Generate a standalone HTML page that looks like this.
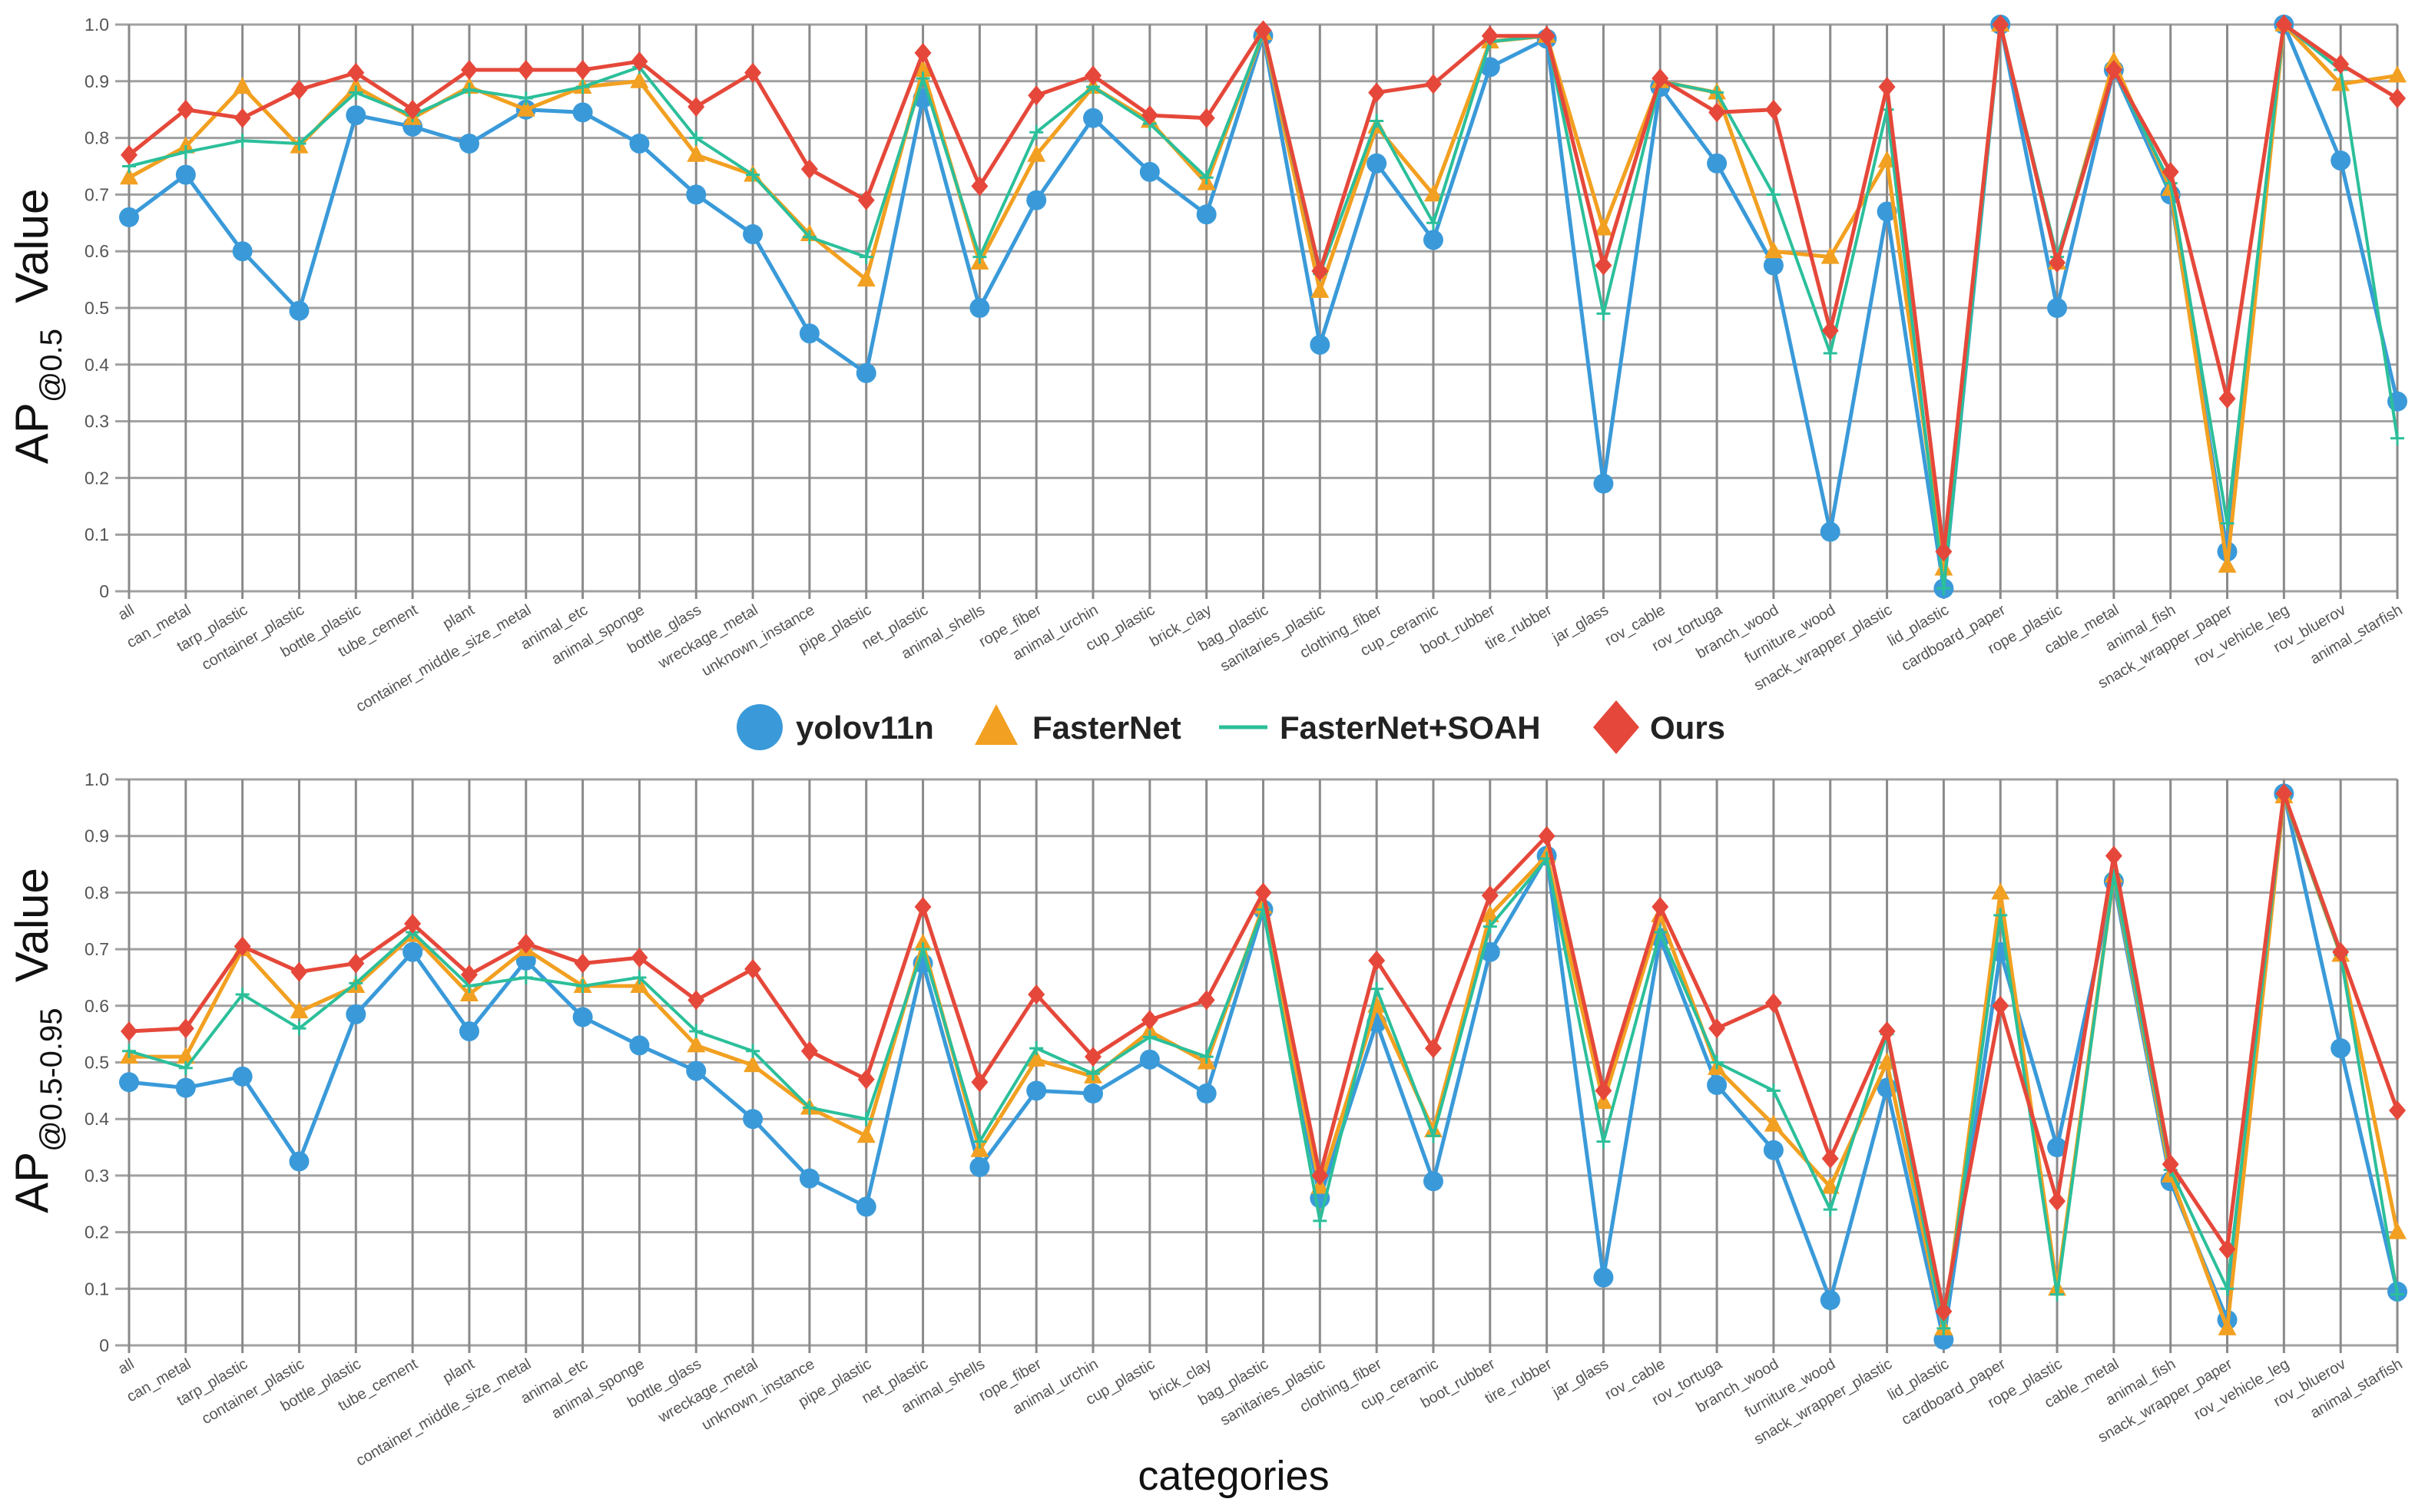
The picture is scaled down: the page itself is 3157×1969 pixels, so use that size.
<!DOCTYPE html>
<html><head><meta charset="utf-8"><style>
html,body{margin:0;padding:0;background:#fff;}
svg{display:block;font-family:"Liberation Sans",Arial,sans-serif;}
</style></head><body>
<svg id="chart" width="3157" height="1969" viewBox="0 0 3157 1969" xmlns="http://www.w3.org/2000/svg">
<rect width="3157" height="1969" fill="#fff"/>
<g id="top"></g>
<g id="bot"></g>
<g>
  <g>
    <circle cx="989" cy="947" r="30" fill="#3a9ad9"/>
    <text x="1036" y="962" font-size="42" font-weight="bold" fill="#222">yolov11n</text>
  </g>
  <g>
    <polygon points="1297,917 1325,970 1269,970" fill="#f2a021"/>
    <text x="1344" y="962" font-size="42" font-weight="bold" fill="#222">FasterNet</text>
  </g>
  <g>
    <line x1="1587" y1="947" x2="1650" y2="947" stroke="#2bbf9a" stroke-width="5"/>
    <text x="1666" y="962" font-size="42" font-weight="bold" fill="#222">FasterNet+SOAH</text>
  </g>
  <g>
    <polygon points="2104,912 2134,947 2104,982 2074,947" fill="#e5483a"/>
    <text x="2148" y="962" font-size="42" font-weight="bold" fill="#222">Ours</text>
  </g>
</g>
<text x="1606" y="1940" font-size="54" text-anchor="middle" fill="#111">categories</text>
</svg>
<script>
const categories=["all","can_metal","tarp_plastic","container_plastic","bottle_plastic","tube_cement","plant","container_middle_size_metal","animal_etc","animal_sponge","bottle_glass","wreckage_metal","unknown_instance","pipe_plastic","net_plastic","animal_shells","rope_fiber","animal_urchin","cup_plastic","brick_clay","bag_plastic","sanitaries_plastic","clothing_fiber","cup_ceramic","boot_rubber","tire_rubber","jar_glass","rov_cable","rov_tortuga","branch_wood","furniture_wood","snack_wrapper_plastic","lid_plastic","cardboard_paper","rope_plastic","cable_metal","animal_fish","snack_wrapper_paper","rov_vehicle_leg","rov_bluerov","animal_starfish"];
const yTicks=["0","0.1","0.2","0.3","0.4","0.5","0.6","0.7","0.8","0.9","1.0"];
const seriesNames=["yolov11n","FasterNet","FasterNet+SOAH","Ours"];
// AP@0.5
const top_yolo=[.66,.735,.60,.495,.84,.82,.79,.85,.845,.79,.70,.63,.455,.385,.87,.50,.69,.835,.74,.665,.98,.435,.755,.62,.925,.975,.19,.89,.755,.575,.105,.67,.005,1.0,.50,.92,.70,.07,1.0,.76,.335];
const top_faster=[.73,.785,.89,.785,.89,.835,.89,.85,.89,.90,.77,.735,.63,.55,.92,.58,.77,.89,.83,.72,.985,.53,.82,.70,.97,.98,.64,.90,.88,.60,.59,.76,.04,1.0,.58,.935,.71,.045,1.0,.895,.91];
const top_soah=[.75,.775,.795,.79,.88,.84,.885,.87,.89,.925,.80,.735,.625,.59,.905,.59,.81,.89,.825,.73,.985,.56,.83,.65,.97,.98,.49,.90,.88,.70,.42,.85,.005,1.0,.59,.92,.72,.12,1.0,.92,.27];
const top_ours=[.77,.85,.835,.885,.915,.85,.92,.92,.92,.935,.855,.915,.745,.69,.95,.715,.875,.91,.84,.835,.99,.565,.88,.895,.98,.98,.575,.905,.845,.85,.46,.89,.07,1.0,.58,.92,.74,.34,1.0,.93,.87];
// AP@0.5-0.95
const bot_yolo=[.465,.455,.475,.325,.585,.695,.555,.68,.58,.53,.485,.40,.295,.245,.675,.315,.45,.445,.505,.445,.77,.26,.57,.29,.695,.865,.12,.72,.46,.345,.08,.455,.01,.695,.35,.82,.29,.045,.975,.525,.095];
const bot_faster=[.51,.51,.70,.59,.635,.725,.62,.70,.635,.635,.53,.495,.42,.37,.71,.345,.505,.475,.555,.50,.775,.28,.60,.38,.76,.865,.43,.76,.49,.39,.28,.50,.03,.80,.10,.83,.30,.03,.97,.69,.20];
const bot_soah=[.52,.49,.62,.56,.64,.73,.635,.65,.635,.65,.555,.52,.42,.40,.70,.36,.525,.48,.545,.51,.77,.22,.63,.37,.74,.86,.36,.73,.50,.45,.24,.55,.03,.76,.09,.83,.31,.10,.97,.69,.09];
const bot_ours=[.555,.56,.705,.66,.675,.745,.655,.71,.675,.685,.61,.665,.52,.47,.775,.465,.62,.51,.575,.61,.80,.30,.68,.525,.795,.90,.45,.775,.56,.605,.33,.555,.06,.60,.255,.865,.32,.17,.975,.695,.415];

const NS="http://www.w3.org/2000/svg";
function mk(tag,attrs,parent){const e=document.createElementNS(NS,tag);for(const k in attrs)e.setAttribute(k,attrs[k]);parent.appendChild(e);return e;}
const X0=168,X1=3121;
function xScale(i){return X0+(X1-X0)*i/(categories.length-1);}
const colors=["#3a9ad9","#f2a021","#2bbf9a","#e5483a"];

function panel(g,yTop,yBot,sub,titleCy,data){
  const yScale=v=>yBot-(yBot-yTop)*v;
  for(let t=0;t<yTicks.length;t++){
    const v=t/10,y=yScale(v);
    const l=mk("line",{x1:150,y1:y,x2:X1,y2:y,stroke:"#a0a0a0","stroke-width":3},g);
    
    
    const tx=mk("text",{x:142,y:y+8,"font-size":23,"text-anchor":"end",fill:"#555"},g);
    tx.textContent=yTicks[t];
    
    
  }
  categories.forEach((c,i)=>{
    const x=xScale(i);
    const l=mk("line",{x1:x,y1:yTop,x2:x,y2:yBot+10,stroke:"#8a8a8a","stroke-width":3},g);
    
    
    const tx=mk("text",{x:x+8,y:yBot+28,"font-size":20,"text-anchor":"end",fill:"#555",transform:`rotate(-30 ${x+8} ${yBot+28})`},g);
    tx.textContent=c;
    
    
  });
  const title=mk("text",{x:0,y:0,"font-size":60,"text-anchor":"middle",fill:"#111",transform:`translate(62 ${titleCy}) rotate(-90)`},g);
  
  
  const t1=mk("tspan",{},title);t1.textContent="AP";
  const t2=mk("tspan",{"font-size":40,dy:18},title);t2.textContent=sub;
  const t3=mk("tspan",{dy:-18},title);t3.textContent="\u00a0\u00a0Value";
  data.forEach((vals,s)=>{
    const sg=mk("g",{},g);
    
    
    const pts=vals.map((v,i)=>xScale(i)+","+yScale(v)).join(" ");
    const pl=mk("polyline",{points:pts,fill:"none",stroke:colors[s],"stroke-width":s==2?4:5,"stroke-linejoin":"round"},sg);
    
    
    vals.forEach((v,i)=>{
      const x=xScale(i),y=yScale(v);let m;
      if(s==0)m=mk("circle",{cx:x,cy:y,r:13,fill:colors[0]},sg);
      else if(s==1)m=mk("polygon",{points:`${x},${y-13} ${x+12},${y+9} ${x-12},${y+9}`,fill:colors[1]},sg);
      else if(s==2)m=mk("path",{d:`M${x-9},${y}H${x+9}M${x},${y-9}V${y+9}`,stroke:colors[2],"stroke-width":3},sg);
      else m=mk("polygon",{points:`${x},${y-13} ${x+11},${y} ${x},${y+13} ${x-11},${y}`,fill:colors[3]},sg);
      
      
    });
  });
}
panel(document.getElementById("top"),32,770,"@0.5",425,[top_yolo,top_faster,top_soah,top_ours]);
panel(document.getElementById("bot"),1015,1752,"@0.5-0.95",1355,[bot_yolo,bot_faster,bot_soah,bot_ours]);
</script>
</body></html>
